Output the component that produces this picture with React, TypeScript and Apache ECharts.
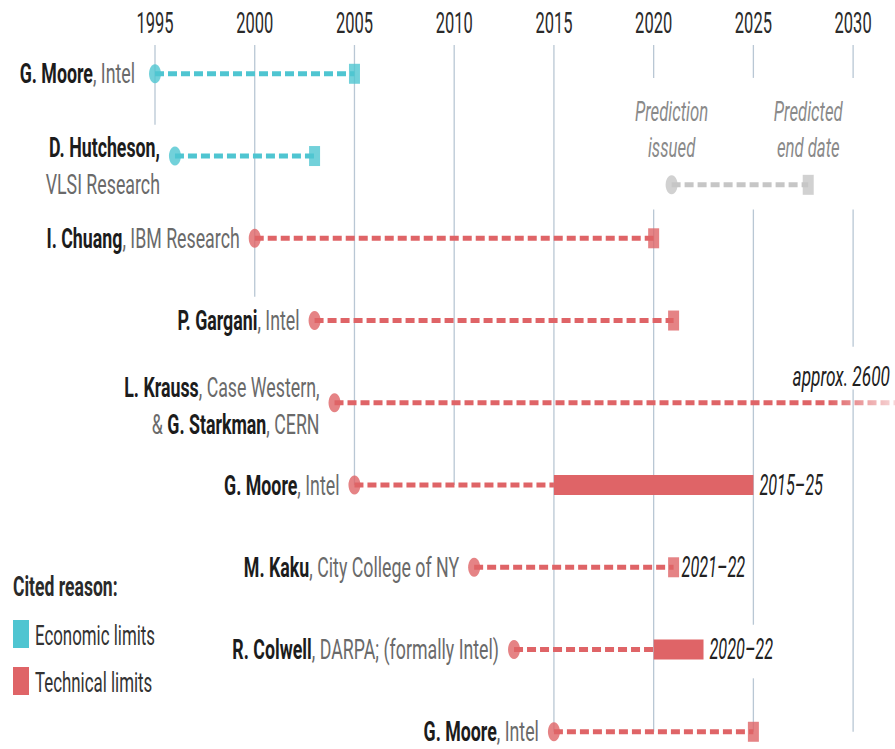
import React, { useEffect, useRef } from 'react';
import * as echarts from 'echarts';

// ---------- data ----------
const TICK_YEARS = [1995, 2000, 2005, 2010, 2015, 2020, 2025, 2030];
const NAMES = ['G. Moore', 'D. Hutcheson', 'I. Chuang', 'P. Gargani', 'L. Krauss', 'G. Moore', 'M. Kaku', 'R. Colwell', 'G. Moore'];
const AFFILIATIONS = ['Intel', 'VLSI Research', 'IBM Research', 'Intel', 'Case Western', 'Intel', 'City College of NY', 'DARPA; (formally Intel)', 'Intel'];
const CO_AUTHOR_NAMES = ['', '', '', '', 'G. Starkman', '', '', '', ''];
const CO_AUTHOR_AFFILIATIONS = ['', '', '', '', 'CERN', '', '', '', ''];
const ISSUED = [1995, 1996, 2000, 2003, 2004, 2005, 2011, 2013, 2015];
const PREDICTED_END = [2005, 2003, 2020, 2021, 2600, 2025, 2021, 2022.5, 2025];
const RANGE_START = [null, null, null, null, null, 2015, null, 2020, null];
const RANGE_LABELS = ['', '', '', '', 'approx. 2600', '2015–25', '2021–22', '2020–22', ''];
const REASONS = ['Economic', 'Economic', 'Technical', 'Technical', 'Technical', 'Technical', 'Technical', 'Technical', 'Technical'];
const EXAMPLE_ISSUED = 2020.9;
const EXAMPLE_END = 2027.75;
const EXAMPLE_LABELS = ['Prediction\nissued', 'Predicted\nend date'];
const LEGEND_TITLE = 'Cited reason:';
const LEGEND_ITEMS = ['Economic limits', 'Technical limits'];

// ---------- layout / style ----------
const W = 895;
const H = 749;
const GRID = { left: 155, right: 0, top: 45, bottom: 9 };
const X_MIN = 1995;
const X_LAST_TICK = 2030;
const EDGE_YEAR = 2032.1; // year at the right edge of the picture
const Y_MIN = -0.35;
const Y_MAX = 8.1;
const EXAMPLE_ROW = 1.35;
const TEAL = '#4fc5d1';
const RED = '#df6467';
const GRAY = '#c6c6c6';
const GRIDC = '#b9c7d4';
const FONT = 'Roboto, "Noto Sans", "DejaVu Sans", sans-serif';
const SX = 0.635;
const LABEL_FS = 28;
const LABEL_DY: Record<number, number> = { 1: 10, 4: 3 };
const LABEL_GAP: Record<number, number> = { 0: 20 };
const GRID_SEGMENTS = [
  [1995, -0.35, 0.62],
  [2000, -0.35, 2.71],
  [2005, -0.35, 5],
  [2010, -0.35, 5],
  [2015, -0.35, 8],
  [2020, -0.35, 0.05],
  [2020, 1.65, 8],
  [2025, -0.35, 0.05],
  [2025, 1.65, 6.7],
  [2025, 7.35, 8],
  [2030, -0.35, 0.05],
  [2030, 1.65, 3.32],
  [2030, 3.84, 8],
];

const colorOf = (i: number) => (REASONS[i] === 'Economic' ? TEAL : RED);
const pxOfYear = (y: number) => GRID.left + ((y - X_MIN) * (W - GRID.left - GRID.right)) / (EDGE_YEAR - X_MIN);

function rowLabel(i: number): string {
  if (CO_AUTHOR_NAMES[i]) {
    return `{b|${NAMES[i]}}{r|, ${AFFILIATIONS[i]},}\n{r|& }{b|${CO_AUTHOR_NAMES[i]}}{r|, ${CO_AUTHOR_AFFILIATIONS[i]}}`;
  }
  if (i === 1) {
    return `{b|${NAMES[i]},}\n{r|${AFFILIATIONS[i]}}`;
  }
  return `{b|${NAMES[i]}}{r|, ${AFFILIATIONS[i]}}`;
}

const richBase = {
  b: { fontFamily: FONT, fontSize: LABEL_FS, fontWeight: 'bold', fill: '#1c1c1c', color: '#1c1c1c', lineHeight: 37 },
  r: { fontFamily: FONT, fontSize: LABEL_FS, fontWeight: 'normal', fill: '#6a6a6a', color: '#6a6a6a', lineHeight: 37 },
};

function buildOption() {
  const series: any[] = [];

  // gridlines
  series.push({
    type: 'custom',
    coordinateSystem: 'cartesian2d',
    silent: true,
    z: 1,
    data: GRID_SEGMENTS,
    encode: { x: 0, y: [1, 2] },
    renderItem: (_p: any, api: any) => {
      const a = api.coord([api.value(0), api.value(1)]);
      const b = api.coord([api.value(0), api.value(2)]);
      return {
        type: 'line',
        shape: { x1: a[0], y1: a[1], x2: b[0], y2: b[1] },
        style: { stroke: GRIDC, lineWidth: 1.3 },
      };
    },
  });

  // dashed lines from issue date to predicted end (or range start)
  ISSUED.forEach((s, i) => {
    const end = RANGE_START[i] ?? Math.min(PREDICTED_END[i], EDGE_YEAR);
    const fades = PREDICTED_END[i] > EDGE_YEAR;
    const color = fades
      ? new echarts.graphic.LinearGradient(
          pxOfYear(2028.8), 0, pxOfYear(EDGE_YEAR), 0,
          [
            { offset: 0, color: RED },
            { offset: 1, color: 'rgba(223,100,103,0.25)' },
          ],
          true
        )
      : colorOf(i);
    series.push({
      type: 'line',
      data: [[s, i], [end, i]],
      symbol: 'none',
      clip: false,
      silent: true,
      z: 2,
      lineStyle: { color, width: 5, type: [9, 4], cap: 'butt' },
    });
  });

  // example line
  series.push({
    type: 'line',
    data: [[EXAMPLE_ISSUED, EXAMPLE_ROW], [EXAMPLE_END, EXAMPLE_ROW]],
    symbol: 'none',
    silent: true,
    z: 2,
    lineStyle: { color: GRAY, width: 5, type: [9, 4] },
  });

  // range bars
  RANGE_START.forEach((r, i) => {
    if (r == null) return;
    series.push({
      type: 'line',
      data: [[r, i], [PREDICTED_END[i], i]],
      symbol: 'none',
      silent: true,
      z: 3,
      lineStyle: { color: colorOf(i), width: 20, cap: 'butt' },
    });
  });

  // issue circles
  series.push({
    type: 'scatter',
    symbol: 'circle',
    symbolSize: [12, 19],
    silent: true,
    z: 4,
    data: [
      ...ISSUED.map((s, i) => ({ value: [s, i], itemStyle: { color: colorOf(i) } })),
      { value: [EXAMPLE_ISSUED, EXAMPLE_ROW], itemStyle: { color: GRAY } },
    ],
  });

  // end squares
  const squares: any[] = [];
  PREDICTED_END.forEach((e, i) => {
    if (RANGE_START[i] == null && e <= EDGE_YEAR) squares.push({ value: [e, i], itemStyle: { color: colorOf(i) } });
  });
  squares.push({ value: [EXAMPLE_END, EXAMPLE_ROW], itemStyle: { color: GRAY } });
  series.push({
    type: 'scatter',
    symbol: 'rect',
    symbolSize: [11, 20],
    silent: true,
    z: 4,
    data: squares,
  });

  // row labels
  series.push({
    type: 'custom',
    coordinateSystem: 'cartesian2d',
    silent: true,
    z: 5,
    data: ISSUED.map((s, i) => [s, i]),
    renderItem: (params: any, api: any) => {
      const i = params.dataIndex;
      const p = api.coord([api.value(0), api.value(1)]);
      return {
        type: 'text',
        x: p[0] - (LABEL_GAP[i] || 15),
        y: p[1] + (LABEL_DY[i] || 0),
        scaleX: SX,
        style: {
          text: rowLabel(i),
          rich: richBase,
          fontFamily: FONT,
          fontSize: LABEL_FS,
          lineHeight: 37,
          textAlign: 'right',
          textVerticalAlign: 'middle',
          align: 'right',
          verticalAlign: 'middle',
        },
      };
    },
  });

  // range labels
  const rangeIdx = RANGE_LABELS.map((l, i) => (l ? i : -1)).filter((i) => i >= 0);
  series.push({
    type: 'custom',
    coordinateSystem: 'cartesian2d',
    silent: true,
    z: 5,
    data: rangeIdx.map((i) => [Math.min(PREDICTED_END[i], EDGE_YEAR), i, i]),
    renderItem: (_params: any, api: any) => {
      const i = api.value(2);
      const p = api.coord([api.value(0), api.value(1)]);
      const beyond = PREDICTED_END[i] > EDGE_YEAR;
      const x = beyond ? p[0] - 5 : p[0] + (RANGE_START[i] != null ? 6 : 8);
      const y = beyond ? p[1] - 26 : p[1];
      return {
        type: 'text',
        x,
        y,
        scaleX: beyond ? 0.64 : 0.56,
        style: {
          text: RANGE_LABELS[i],
          fontFamily: FONT,
          fontSize: beyond ? 27 : 29,
          fontStyle: 'italic',
          fill: '#222',
          textAlign: beyond ? 'right' : 'left',
          textVerticalAlign: 'middle',
          align: beyond ? 'right' : 'left',
          verticalAlign: 'middle',
        },
      };
    },
  });

  // example labels
  series.push({
    type: 'custom',
    coordinateSystem: 'cartesian2d',
    silent: true,
    z: 5,
    data: [[EXAMPLE_ISSUED, EXAMPLE_ROW, 0], [EXAMPLE_END, EXAMPLE_ROW, 1]],
    renderItem: (_params: any, api: any) => {
      const p = api.coord([api.value(0), api.value(1)]);
      return {
        type: 'text',
        x: p[0],
        y: p[1] - 55,
        scaleX: 0.62,
        style: {
          text: EXAMPLE_LABELS[api.value(2)],
          fontFamily: FONT,
          fontSize: 27,
          lineHeight: 36,
          fontStyle: 'italic',
          fill: '#8a8a8a',
          textAlign: 'center',
          textVerticalAlign: 'middle',
          align: 'center',
          verticalAlign: 'middle',
        },
      };
    },
  });

  // year tick labels
  series.push({
    type: 'custom',
    coordinateSystem: 'cartesian2d',
    silent: true,
    z: 5,
    data: TICK_YEARS.map((y) => [y, Y_MIN]),
    renderItem: (_params: any, api: any) => {
      const p = api.coord([api.value(0), api.value(1)]);
      return {
        type: 'text',
        x: p[0],
        y: p[1] - 22,
        scaleX: 0.55,
        style: {
          text: String(api.value(0)),
          fontFamily: FONT,
          fontSize: 30,
          fill: '#2a2a2a',
          textAlign: 'center',
          textVerticalAlign: 'middle',
          align: 'center',
          verticalAlign: 'middle',
        },
      };
    },
  });

  return {
    animation: false,
    backgroundColor: '#ffffff',
    grid: { ...GRID, containLabel: false },
    xAxis: {
      type: 'value',
      min: X_MIN,
      max: EDGE_YEAR,
      position: 'top',
      axisLine: { show: false },
      axisTick: { show: false },
      axisLabel: { show: false },
      splitLine: { show: false },
    },
    yAxis: {
      type: 'value',
      min: Y_MIN,
      max: Y_MAX,
      inverse: true,
      show: false,
      splitLine: { show: false },
    },
    graphic: [
      {
        type: 'text',
        x: 13,
        y: 587,
        scaleX: 0.65,
        style: {
          text: LEGEND_TITLE,
          fontFamily: FONT,
          fontSize: 27,
          fontWeight: 'bold',
          fill: '#2a2a2a',
          textVerticalAlign: 'middle',
          verticalAlign: 'middle',
        },
      },
      { type: 'rect', shape: { x: 13, y: 620, width: 16, height: 28 }, style: { fill: TEAL } },
      {
        type: 'text',
        x: 35,
        y: 635,
        scaleX: 0.625,
        style: {
          text: LEGEND_ITEMS[0],
          fontFamily: FONT,
          fontSize: 27,
          fill: '#333',
          textVerticalAlign: 'middle',
          verticalAlign: 'middle',
        },
      },
      { type: 'rect', shape: { x: 13, y: 667, width: 16, height: 28 }, style: { fill: RED } },
      {
        type: 'text',
        x: 35,
        y: 682,
        scaleX: 0.625,
        style: {
          text: LEGEND_ITEMS[1],
          fontFamily: FONT,
          fontSize: 27,
          fill: '#333',
          textVerticalAlign: 'middle',
          verticalAlign: 'middle',
        },
      },
    ],
    series,
  };
}

export default function App() {
  const ref = useRef<HTMLDivElement>(null);
  useEffect(() => {
    document.body.style.margin = '0';
    if (!ref.current) return;
    const chart = echarts.init(ref.current, undefined, { renderer: 'svg', width: W, height: H });
    chart.setOption(buildOption() as any);
    return () => chart.dispose();
  }, []);
  return <div ref={ref} style={{ width: W, height: H, background: '#fff' }} />;
}
